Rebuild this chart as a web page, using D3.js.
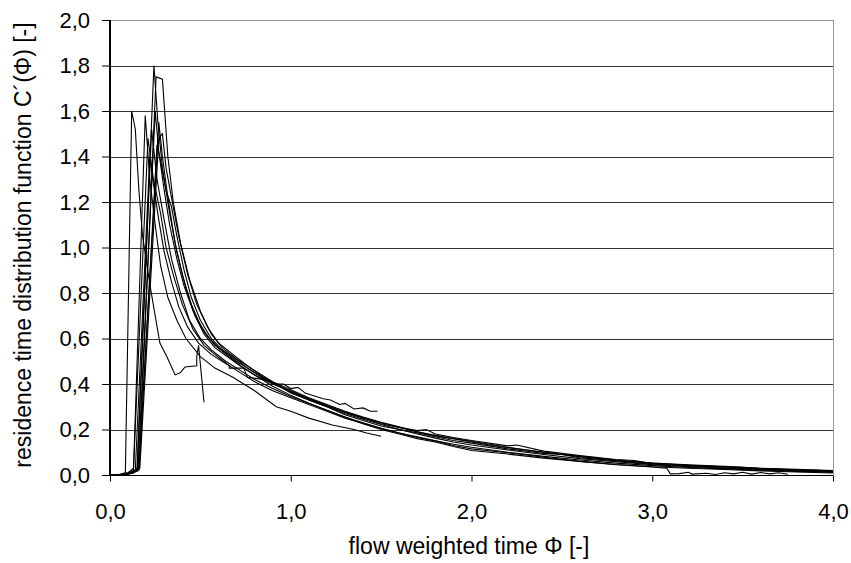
<!DOCTYPE html>
<html><head><meta charset="utf-8">
<script src="https://cdn.jsdelivr.net/npm/d3@7"></script>
<style>body{margin:0;background:#fff}svg{display:block}text{font-family:"Liberation Sans",Arial,sans-serif;fill:#000}</style>
</head><body><svg id="c" width="851" height="563"></svg>
<script>
const xTicks = [0, 1, 2, 3, 4];
const yTicks = [0, 0.2, 0.4, 0.6, 0.8, 1.0, 1.2, 1.4, 1.6, 1.8, 2.0];
const xLabel = "flow weighted time Φ [-]";
const yLabel = "residence time distribution function C´(Φ) [-]";

const curve1 = [[0,0],[0.04,0],[0.085,0.01],[0.12,1.6],[0.14,1.52],[0.16,1.25],[0.18,1.05],[0.2,0.95],[0.22,0.84],[0.25,0.7],[0.276,0.58],[0.315,0.52],[0.36,0.44],[0.39,0.45],[0.415,0.475],[0.48,0.48],[0.48,0.52],[0.49,0.57],[0.52,0.32]];
const curve2 = [[0,0],[0.06,0],[0.1,0.01],[0.13,0.02],[0.195,1.58],[0.22,1.3],[0.25,1.1],[0.28,0.92],[0.32,0.78],[0.37,0.68],[0.42,0.6],[0.5,0.52],[0.58,0.47],[0.68,0.43],[0.8,0.37],[0.92,0.3],[1.0,0.28],[1.1,0.25],[1.23,0.22],[1.35,0.2],[1.42,0.185],[1.5,0.17]];
const curve3 = [[0,0],[0.07,0],[0.12,0.01],[0.15,0.03],[0.243,1.8],[0.265,1.55],[0.29,1.35],[0.33,1.15],[0.37,0.98],[0.42,0.82],[0.47,0.7],[0.52,0.62],[0.58,0.56],[0.65,0.52],[0.72,0.48],[0.8,0.44],[0.9,0.4],[1.0,0.37],[1.1,0.335],[1.2,0.305],[1.3,0.275],[1.4,0.25],[1.5,0.23],[1.6,0.21],[1.7,0.195],[1.75,0.2],[1.8,0.18],[1.9,0.165],[2.0,0.152],[2.2,0.128],[2.25,0.132],[2.4,0.105],[2.6,0.085],[2.8,0.068],[2.9,0.064],[3.0,0.05],[3.2,0.042],[3.4,0.036],[3.5,0.034],[3.6,0.028],[3.8,0.022],[4.0,0.018]];
const curve4 = [[0,0],[0.08,0],[0.13,0.01],[0.16,0.03],[0.255,1.75],[0.29,1.74],[0.32,1.4],[0.35,1.2],[0.39,1.02],[0.44,0.86],[0.5,0.72],[0.56,0.62],[0.62,0.56],[0.7,0.51],[0.8,0.46],[0.9,0.41],[1.0,0.375],[1.1,0.34],[1.2,0.31],[1.3,0.28],[1.4,0.255],[1.5,0.232],[1.6,0.212],[1.7,0.19],[1.8,0.172],[1.9,0.16],[2.0,0.145],[2.2,0.12],[2.4,0.1],[2.6,0.082],[2.8,0.066],[3.0,0.052],[3.2,0.045],[3.4,0.038],[3.6,0.03],[3.8,0.025],[4.0,0.02]];
const curve5 = [[0,0],[0.07,0],[0.12,0.01],[0.15,0.02],[0.23,1.52],[0.26,1.3],[0.3,1.12],[0.34,0.95],[0.39,0.8],[0.44,0.68],[0.5,0.6],[0.56,0.55],[0.64,0.5],[0.72,0.46],[0.8,0.42],[0.9,0.38],[1.0,0.345],[1.1,0.315],[1.2,0.285],[1.3,0.255],[1.4,0.23],[1.5,0.205],[1.6,0.185],[1.7,0.165],[1.8,0.15],[1.9,0.13],[2.0,0.115],[2.2,0.098],[2.4,0.078],[2.6,0.06],[2.8,0.045],[3.0,0.035],[3.08,0.03],[3.1,0.005],[3.15,0.006],[3.2,0.012],[3.22,0.004],[3.3,0.008],[3.35,0.002],[3.4,0.01],[3.45,0.005],[3.5,0.012],[3.55,0.004],[3.6,0.011],[3.65,0.005],[3.7,0.01],[3.75,0.003]];
const curve6 = [[0,0],[0.08,0],[0.13,0.01],[0.165,0.03],[0.27,1.48],[0.29,1.5],[0.31,1.35],[0.34,1.22],[0.38,1.05],[0.43,0.88],[0.48,0.75],[0.54,0.65],[0.6,0.58],[0.68,0.53],[0.76,0.48],[0.85,0.43],[0.95,0.385],[1.0,0.36],[1.1,0.33],[1.2,0.3],[1.3,0.265],[1.4,0.24],[1.5,0.215],[1.6,0.2],[1.7,0.18],[1.8,0.162],[1.9,0.145],[2.0,0.132],[2.2,0.11],[2.4,0.09],[2.6,0.072],[2.8,0.058],[3.0,0.045],[3.2,0.037],[3.4,0.03],[3.6,0.024],[3.8,0.018],[4.0,0.013]];
const curve7 = [[0,0],[0.05,0],[0.1,0.01],[0.13,0.03],[0.21,1.48],[0.24,1.3],[0.28,1.15],[0.31,1.0],[0.35,0.88],[0.4,0.75],[0.46,0.64],[0.52,0.57],[0.58,0.53],[0.66,0.48],[0.66,0.47],[0.74,0.47],[0.76,0.43],[0.85,0.42],[0.92,0.4],[0.96,0.4],[1.0,0.38],[1.04,0.385],[1.08,0.36],[1.14,0.345],[1.18,0.335],[1.22,0.33],[1.27,0.31],[1.3,0.315],[1.35,0.29],[1.4,0.295],[1.44,0.28],[1.48,0.28]];
const curve8 = [[0,0],[0.07,0],[0.12,0.01],[0.155,0.03],[0.25,1.6],[0.27,1.42],[0.3,1.25],[0.33,1.1],[0.37,0.95],[0.41,0.83],[0.46,0.72],[0.52,0.63],[0.58,0.57],[0.66,0.52],[0.74,0.47],[0.82,0.43],[0.9,0.39],[1.0,0.35],[1.1,0.315],[1.2,0.285],[1.3,0.255],[1.4,0.225],[1.5,0.2],[1.6,0.18],[1.7,0.16],[1.8,0.145],[1.9,0.125],[2.0,0.108],[2.1,0.1],[2.2,0.092],[2.4,0.074],[2.6,0.06],[2.8,0.046],[3.0,0.036],[3.2,0.03],[3.4,0.024],[3.6,0.018],[3.8,0.013],[4.0,0.009]];
const curve9 = [[0,0],[0.08,0],[0.13,0.01],[0.16,0.02],[0.26,1.45],[0.28,1.38],[0.31,1.25],[0.34,1.18],[0.37,1.05],[0.41,0.9],[0.45,0.78],[0.5,0.68],[0.56,0.6],[0.62,0.55],[0.7,0.5],[0.78,0.46],[0.86,0.42],[0.94,0.39],[1.0,0.365],[1.1,0.33],[1.2,0.3],[1.3,0.27],[1.4,0.245],[1.5,0.222],[1.6,0.2],[1.7,0.185],[1.8,0.168],[1.9,0.152],[2.0,0.14],[2.2,0.115],[2.4,0.095],[2.5,0.09],[2.6,0.076],[2.8,0.062],[3.0,0.047],[3.2,0.04],[3.4,0.032],[3.6,0.026],[3.8,0.02],[4.0,0.015]];
const curve10 = [[0,0],[0.07,0],[0.12,0.01],[0.16,0.03],[0.27,1.55],[0.29,1.4],[0.32,1.22],[0.36,1.02],[0.4,0.88],[0.45,0.75],[0.5,0.66],[0.55,0.6],[0.6,0.56],[0.68,0.52],[0.76,0.47],[0.84,0.43],[0.92,0.395],[1.0,0.365],[1.1,0.335],[1.2,0.305],[1.3,0.278],[1.4,0.252],[1.5,0.225],[1.6,0.208],[1.7,0.19],[1.8,0.175],[1.9,0.16],[2.0,0.148],[2.2,0.122],[2.4,0.1],[2.6,0.08],[2.8,0.064],[3.0,0.052],[3.2,0.043],[3.4,0.035],[3.6,0.028],[3.8,0.023],[4.0,0.018]];
const curve11 = [[0,0],[0.06,0],[0.11,0.01],[0.14,0.02],[0.22,1.4],[0.24,1.28],[0.27,1.12],[0.3,0.98],[0.34,0.85],[0.38,0.74],[0.43,0.65],[0.49,0.58],[0.56,0.53],[0.64,0.49],[0.72,0.45],[0.8,0.41],[0.9,0.37],[1.0,0.34],[1.1,0.31],[1.2,0.28],[1.3,0.25],[1.4,0.226],[1.5,0.205],[1.6,0.185],[1.7,0.168],[1.8,0.15],[1.9,0.135],[2.0,0.122],[2.2,0.1],[2.4,0.082],[2.6,0.066],[2.8,0.052],[3.0,0.041],[3.2,0.033],[3.4,0.027],[3.6,0.021],[3.8,0.016],[4.0,0.012]];
const curves = [curve1, curve2, curve3, curve4, curve5, curve6, curve7, curve8, curve9, curve10, curve11];

const L = 110, R = 833, T = 20, B = 475;
const svg = d3.select("#c");
const x = d3.scaleLinear().domain([0, 4]).range([L, R]);
const y = d3.scaleLinear().domain([0, 2]).range([B, T]);
const fmt = d => d3.format(".1f")(d).replace(".", ",");

// gridlines
svg.append("g").selectAll("line").data(yTicks.filter(d => d > 0)).join("line")
  .attr("x1", L).attr("x2", R)
  .attr("y1", d => Math.round(y(d)) + 0.5).attr("y2", d => Math.round(y(d)) + 0.5)
  .attr("stroke", d => d === 2 ? "#999" : "#333").attr("stroke-width", 1);
// right border
svg.append("line").attr("x1", R + 0.5).attr("x2", R + 0.5).attr("y1", T).attr("y2", B)
  .attr("stroke", "#999");

// curves
const line = d3.line().x(d => x(d[0])).y(d => y(d[1]));
svg.append("g").selectAll("path").data(curves).join("path")
  .attr("d", line).attr("fill", "none").attr("stroke", "#000")
  .attr("stroke-width", 1.1).attr("stroke-linejoin", "miter");

// axes
const xAxis = d3.axisBottom(x).tickValues(xTicks).tickFormat(fmt).tickSize(6).tickPadding(22);
const gx = svg.append("g").attr("transform", `translate(0,${B + 0.5})`).call(xAxis);
const yAxis = d3.axisLeft(y).tickValues(yTicks).tickFormat(fmt).tickSize(8).tickPadding(12);
const gy = svg.append("g").attr("transform", `translate(${L},0)`).call(yAxis);
[gx, gy].forEach(g => {
  g.select(".domain").attr("stroke", "#000");
  g.selectAll(".tick line").attr("stroke", "#000");
  g.selectAll(".tick text").attr("font-size", 22).attr("font-family", "Liberation Sans, Arial, sans-serif").attr("fill", "#000");
});
gy.select(".domain").attr("stroke-width", 2);
gx.select(".domain").attr("d", `M${L},0H${R}`);
gy.select(".domain").attr("d", `M0,${B}V${T}`);

svg.append("text").attr("x", 469).attr("y", 554).attr("text-anchor", "middle")
  .attr("font-size", 23).text(xLabel);
svg.append("text").attr("transform", `translate(31,245) rotate(-90)`)
  .attr("text-anchor", "middle").attr("font-size", 23).text(yLabel);
</script></body></html>
